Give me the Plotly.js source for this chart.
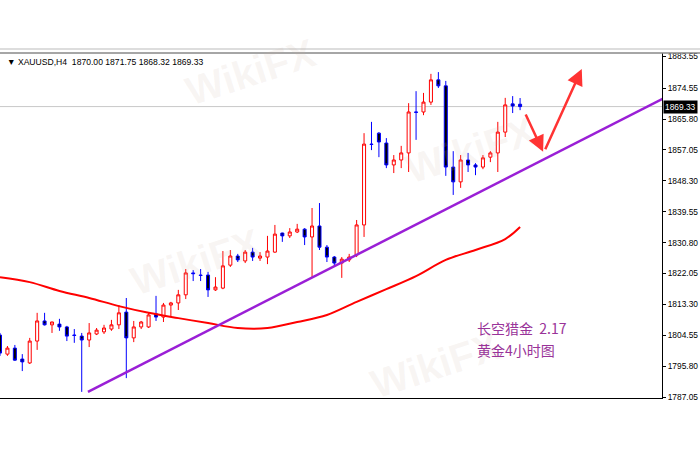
<!DOCTYPE html>
<html>
<head>
<meta charset="utf-8">
<script src="https://cdn.plot.ly/plotly-3.0.1.min.js"></script>
<style>html,body{margin:0;padding:0;background:#fff;}#chart{width:700px;height:450px;}</style>
</head>
<body>
<div id="chart"></div>
<script>
// XAUUSD H4 candles
const open  = [1804.6,1799.2,1800.9,1797.8,1796.7,1802.9,1808.6,1807.5,1807.7,1806.9,1804.6,1804.3,1803.2,1804.9,1805.5,1806.3,1807.5,1811.1,1803.8,1806.9,1806.9,1810.6,1809.7,1813.1,1813.7,1816.0,1822.2,1821.6,1821.6,1817.4,1817.9,1824.4,1827.0,1825.6,1828.1,1826.4,1826.7,1828.1,1833.5,1832.7,1833.8,1834.6,1832.4,1835.5,1829.5,1826.7,1825.0,1825.9,1827.3,1835.8,1858.7,1861.8,1859.0,1852.8,1854.2,1856.2,1867.8,1867.8,1870.6,1876.9,1875.2,1852.2,1848.0,1854.2,1852.8,1852.2,1855.0,1856.2,1862.1,1870.1,1870.00];
const high  = [1805.2,1801.5,1801.8,1799.2,1803.8,1810.9,1810.9,1808.4,1809.2,1807.2,1806.3,1805.2,1808.0,1806.6,1807.5,1808.9,1813.1,1815.1,1808.6,1808.6,1810.9,1815.7,1813.7,1814.0,1817.4,1823.3,1823.0,1823.3,1822.5,1821.0,1828.4,1828.7,1827.6,1828.7,1829.3,1828.1,1832.7,1835.8,1833.6,1834.9,1836.1,1834.9,1840.6,1842.0,1830.1,1827.0,1826.7,1827.6,1837.2,1861.8,1865.0,1862.1,1860.4,1855.6,1858.2,1870.3,1873.7,1873.2,1878.6,1879.1,1876.6,1856.7,1855.6,1856.2,1853.3,1855.6,1856.7,1865.0,1871.8,1872.3,1871.75];
const low   = [1798.7,1798.7,1797.3,1794.4,1796.4,1800.4,1807.3,1805.2,1805.8,1802.9,1802.4,1788.5,1801.2,1804.6,1804.9,1805.8,1806.3,1792.4,1802.6,1806.3,1806.6,1808.6,1808.3,1809.7,1811.7,1814.8,1819.9,1819.9,1815.4,1817.1,1817.6,1823.9,1825.3,1825.0,1825.6,1825.6,1824.7,1827.9,1831.0,1832.1,1833.5,1830.1,1821.0,1828.7,1825.3,1824.2,1820.8,1825.3,1826.7,1832.4,1857.0,1855.0,1851.9,1850.5,1851.9,1850.8,1859.9,1866.9,1869.8,1874.6,1849.7,1844.3,1846.3,1850.8,1849.9,1851.6,1853.6,1850.8,1860.7,1867.5,1868.32];
const close = [1799.5,1800.9,1797.5,1797.0,1802.9,1808.6,1807.5,1808.3,1806.9,1804.3,1804.5,1803.2,1805.2,1806.0,1806.6,1807.5,1810.9,1803.8,1806.9,1808.3,1810.3,1809.7,1813.1,1813.7,1816.0,1822.2,1822.0,1821.5,1817.4,1818.2,1824.2,1827.0,1825.9,1828.1,1826.7,1827.0,1828.4,1833.2,1832.7,1833.8,1834.6,1832.4,1835.5,1829.5,1826.7,1825.0,1826.1,1826.7,1835.8,1858.7,1858.6,1859.3,1852.8,1854.2,1856.2,1867.8,1867.7,1870.6,1876.9,1875.2,1852.2,1848.0,1854.2,1852.8,1852.2,1854.8,1856.2,1862.1,1869.8,1869.5,1869.33];

// moving average (red line), sampled at bar positions
const maBar = [0,4,8,12,16,20,24,28,32,36,40,44,48,52,56,60,64,68,70];
const maVal = [1821.0,1819.6,1817.1,1815.1,1812.8,1810.9,1809.4,1808.0,1806.6,1806.6,1808.3,1810.3,1814.0,1817.6,1821.3,1825.9,1828.7,1831.8,1835.2];

// purple trend line anchors
const trendBar = [11.84, 89.6];
const trendVal = [1788.5, 1872.0];

// red arrows (start bar, start price, end bar, end price)
const arrowFromBar = [70.66, 73.3];
const arrowFromVal = [1867.5, 1856.8];
const arrowToBar   = [73.1, 78.3];
const arrowToVal   = [1856.5, 1880.0];

// right axis ticks
const tickVals = [1883.55,1874.55,1865.80,1857.05,1848.30,1839.55,1830.80,1822.05,1813.30,1804.55,1795.80,1787.05];
const tickText = tickVals.map(v => v.toFixed(2));

const lastPrice = 1869.33;
const header = '\u25BC XAUUSD,H4  1870.00 1871.75 1868.32 1869.33';
const noteLines = ['长空猎金  2.17', '黄金4小时图'];
const watermark = 'WikiFX';

const bars = open.map((_, i) => i);

const traces = [
  {
    type: 'scatter', mode: 'lines', x: maBar, y: maVal,
    line: {color: '#FF0000', width: 2, shape: 'spline', smoothing: 1},
    hoverinfo: 'skip', showlegend: false
  },
  {
    type: 'candlestick', x: bars, open: open, high: high, low: low, close: close,
    increasing: {line: {color: '#FF0000', width: 1}, fillcolor: '#FFFFFF'},
    decreasing: {line: {color: '#0000FF', width: 1}, fillcolor: '#000000'},
    whiskerwidth: 0, showlegend: false, hoverinfo: 'skip'
  },
  {
    type: 'scatter', mode: 'lines', x: trendBar, y: trendVal,
    line: {color: '#9A1FD6', width: 2.5},
    hoverinfo: 'skip', showlegend: false
  }
];

const annotations = [];
// faint watermarks
[[250/662, (398-72)/345], [195/662, (398-262)/345], [470/662, (398-150)/345], [435/662, (398-365)/345]].forEach(p => {
  annotations.push({xref: 'paper', yref: 'paper', x: p[0], y: p[1], xanchor: 'center', yanchor: 'middle',
    text: '<b>' + watermark + '</b>', showarrow: false, textangle: -18,
    font: {family: 'Liberation Sans, sans-serif', size: 40, color: 'rgba(200,180,160,0.13)'}});
});
annotations.push(
  {xref: 'paper', yref: 'paper', x: 5/662, y: 1 - 9/345, xanchor: 'left', yanchor: 'middle',
   text: header, showarrow: false, font: {family: 'Liberation Sans, sans-serif', size: 8.6, color: '#000'}},
  {xref: 'paper', yref: 'y', x: 1, y: lastPrice, xanchor: 'left', yanchor: 'middle', xshift: 1,
   text: lastPrice.toFixed(2), showarrow: false, bgcolor: '#000000', borderpad: 1,
   font: {family: 'Liberation Sans, sans-serif', size: 8.4, color: '#FFFFFF'}},
  {xref: 'paper', yref: 'paper', x: 475/662, y: (398-328)/345, xanchor: 'left', yanchor: 'middle',
   text: noteLines[0], showarrow: false, font: {family: 'Noto Sans CJK SC, sans-serif', size: 14, color: '#993399'}},
  {xref: 'paper', yref: 'paper', x: 475/662, y: (398-350)/345, xanchor: 'left', yanchor: 'middle',
   text: noteLines[1], showarrow: false, font: {family: 'Noto Sans CJK SC, sans-serif', size: 14, color: '#993399'}}
);
for (let k = 0; k < arrowToBar.length; k++) {
  annotations.push({
    xref: 'x', yref: 'y', axref: 'x', ayref: 'y',
    x: arrowToBar[k], y: arrowToVal[k], ax: arrowFromBar[k], ay: arrowFromVal[k],
    text: '', showarrow: true, arrowhead: 2, arrowsize: 1.3, arrowwidth: 2.5, arrowcolor: '#FF3333'
  });
}

const layout = {
  width: 700, height: 450,
  margin: {l: 0, r: 38, t: 53, b: 52, pad: 0},
  paper_bgcolor: '#FFFFFF', plot_bgcolor: '#FFFFFF',
  showlegend: false,
  boxgap: 0.42,
  xaxis: {range: [0, 89.1], showgrid: false, zeroline: false, showticklabels: false, ticks: '',
          showline: true, linecolor: '#000', linewidth: 1, rangeslider: {visible: false}, fixedrange: true},
  yaxis: {side: 'right', range: [1786.77, 1884.51], tickvals: tickVals, ticktext: tickText,
          showgrid: false, zeroline: false, showline: true, linecolor: '#000', linewidth: 1,
          ticks: 'outside', ticklen: 3, tickcolor: '#000',
          tickfont: {family: 'Liberation Sans, sans-serif', size: 8.4, color: '#000'}, fixedrange: true},
  shapes: [
    {type: 'line', xref: 'paper', yref: 'y', x0: 0, x1: 1, y0: lastPrice, y1: lastPrice,
     line: {color: '#C8C8C8', width: 1}, layer: 'below'},
    {type: 'line', xref: 'paper', yref: 'paper', x0: 0, x1: 700/662, y0: 1 + 4/345, y1: 1 + 4/345,
     line: {color: '#BBBBBB', width: 1}},
    {type: 'line', xref: 'paper', yref: 'paper', x0: 0, x1: 700/662, y0: 1, y1: 1,
     line: {color: '#888888', width: 1.5}}
  ],
  annotations: annotations
};

Plotly.newPlot('chart', traces, layout, {displayModeBar: false, staticPlot: true});
</script>
</body>
</html>
